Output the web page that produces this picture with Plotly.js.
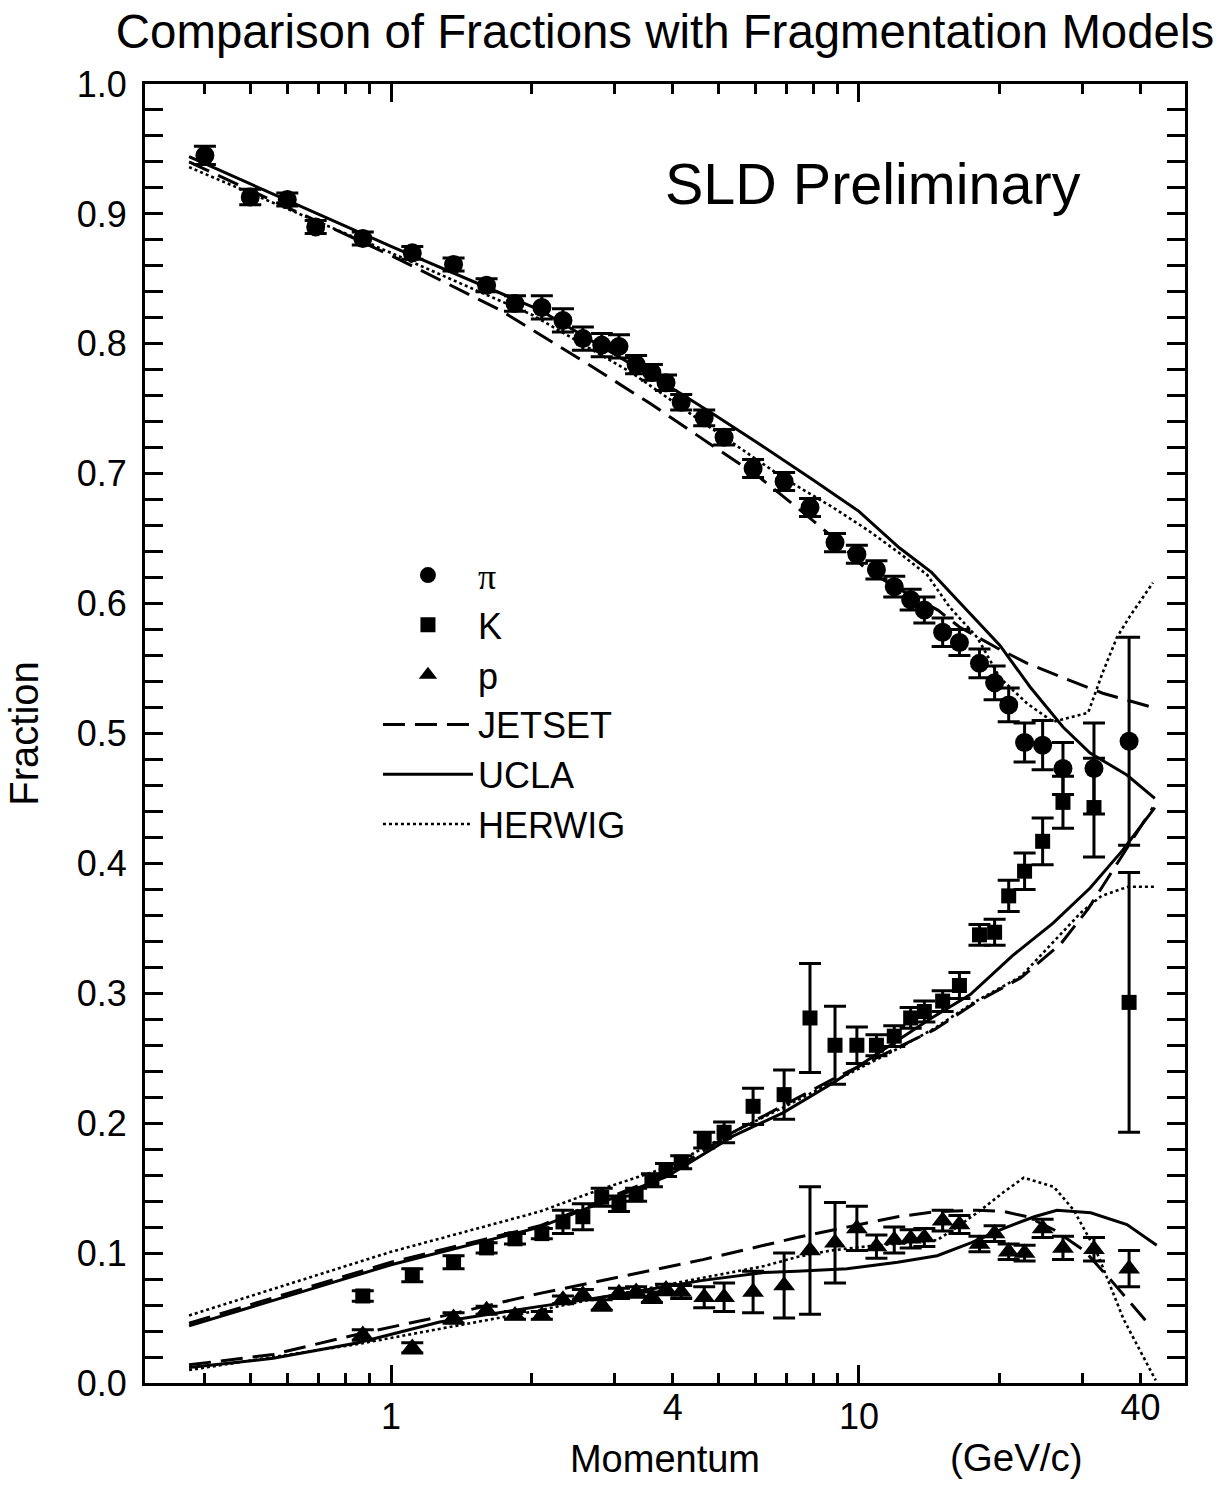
<!DOCTYPE html>
<html>
<head>
<meta charset="utf-8">
<script src="https://cdn.plot.ly/plotly-3.0.1.min.js"></script>
<style>html,body{margin:0;padding:0;background:#fff;}</style>
</head>
<body>
<div id="chart" style="width:1229px;height:1488px;"></div>
<script>
// ---- measured data (momentum in GeV/c, fraction) ----
const pionMomentum = [0.40,0.50,0.60,0.69,0.87,1.11,1.36,1.60,1.84,2.10,2.33,2.57,2.82,3.07,3.34,3.61,3.87,4.17,4.67,5.15,5.94,6.92,7.86,8.89,9.90,10.9,11.9,12.9,13.8,15.1,16.4,18.1,19.5,20.9,22.6,24.7,27.3,31.8,37.8];
const pionFraction = [0.945,0.913,0.911,0.890,0.881,0.870,0.861,0.845,0.831,0.828,0.818,0.804,0.799,0.798,0.784,0.778,0.770,0.755,0.743,0.728,0.704,0.694,0.674,0.647,0.638,0.626,0.613,0.603,0.595,0.578,0.570,0.554,0.539,0.522,0.493,0.491,0.473,0.473,0.494];
const pionError = [0.007,0.006,0.005,0.005,0.005,0.005,0.005,0.005,0.006,0.009,0.009,0.009,0.009,0.009,0.007,0.006,0.006,0.006,0.006,0.006,0.007,0.007,0.007,0.007,0.007,0.007,0.008,0.008,0.010,0.011,0.010,0.011,0.013,0.013,0.015,0.019,0.020,0.035,0.080];

const kpMomentum = [0.87,1.11,1.36,1.60,1.84,2.10,2.33,2.57,2.82,3.07,3.34,3.61,3.87,4.17,4.67,5.15,5.94,6.92,7.86,8.89,9.90,10.9,11.9,12.9,13.8,15.1,16.4,18.1,19.5,20.9,22.6,24.7,27.3,31.8,37.8];
const kaonFraction = [0.067,0.083,0.093,0.104,0.111,0.115,0.124,0.128,0.143,0.138,0.145,0.156,0.164,0.170,0.187,0.193,0.213,0.222,0.281,0.260,0.260,0.260,0.267,0.281,0.286,0.294,0.306,0.345,0.347,0.375,0.394,0.417,0.447,0.443,0.293];
const kaonError = [0.004,0.005,0.005,0.004,0.004,0.004,0.009,0.010,0.007,0.006,0.005,0.005,0.005,0.005,0.006,0.008,0.014,0.019,0.042,0.030,0.014,0.008,0.008,0.008,0.008,0.008,0.010,0.008,0.010,0.012,0.014,0.018,0.020,0.038,0.100];
const protonFraction = [0.037,0.027,0.050,0.056,0.052,0.052,0.064,0.068,0.060,0.069,0.070,0.066,0.072,0.070,0.066,0.066,0.070,0.075,0.102,0.108,0.119,0.105,0.110,0.111,0.112,0.125,0.122,0.107,0.115,0.101,0.100,0.119,0.104,0.103,0.088];
const protonError = [0.004,0.004,0.004,0.003,0.003,0.003,0.003,0.004,0.004,0.004,0.004,0.004,0.004,0.005,0.008,0.011,0.016,0.025,0.049,0.031,0.017,0.009,0.010,0.007,0.007,0.008,0.007,0.006,0.006,0.006,0.006,0.007,0.009,0.009,0.014];

// ---- model curves ----
const pionJetsetP = [0.37,1.0,1.71,2.62,3.58,4.88,6.14,7.37,8.67,10.4,12.2,14.75,16.4,19.7,22.9,27.3,33.2,42.5];
const pionJetsetF = [0.940,0.868,0.826,0.785,0.754,0.721,0.697,0.674,0.653,0.626,0.611,0.595,0.582,0.566,0.554,0.543,0.531,0.520];
const pionUclaP = [0.37,1.0,2.08,3.0,4.15,4.88,6.0,8.0,10.0,12.2,14.3,16.4,20.0,23.2,27.3,31.2,37.4,42.9];
const pionUclaF = [0.944,0.875,0.826,0.792,0.762,0.746,0.725,0.695,0.671,0.643,0.624,0.601,0.568,0.536,0.505,0.485,0.468,0.450];
const pionHerwigP = [0.37,1.0,2.01,3.29,4.88,6.88,8.80,10.4,12.2,14.0,15.65,17.9,20.0,22.9,26.0,30.9,33.2,35.6,37.9,42.5];
const pionHerwigF = [0.936,0.870,0.822,0.777,0.734,0.697,0.674,0.657,0.639,0.622,0.597,0.574,0.543,0.523,0.509,0.516,0.547,0.574,0.590,0.616];

const kaonJetsetP = [0.37,1.0,2.08,3.89,5.38,8.80,14.5,17.6,22.2,27.0,30.9,35.8,42.5];
const kaonJetsetF = [0.046,0.093,0.121,0.161,0.193,0.234,0.272,0.292,0.312,0.338,0.365,0.401,0.443];
const kaonUclaP = [0.37,1.0,2.08,3.89,5.38,6.88,8.80,11.9,14.3,17.3,21.3,26.0,31.2,36.6,42.9];
const kaonUclaF = [0.044,0.091,0.120,0.159,0.190,0.208,0.231,0.262,0.281,0.299,0.329,0.354,0.381,0.410,0.443];
const kaonHerwigP = [0.37,1.0,2.08,2.80,3.89,5.38,6.88,8.80,12.2,14.5,17.6,22.2,29.8,33.0,37.6,43.0];
const kaonHerwigF = [0.052,0.101,0.132,0.149,0.166,0.193,0.212,0.232,0.258,0.273,0.293,0.313,0.362,0.375,0.382,0.382];

const protonJetsetP = [0.37,0.56,0.86,1.27,2.08,2.82,4.64,6.27,7.37,9.43,12.1,14.7,17.9,20.4,22.9,26.1,30.3,34.6,41.7];
const protonJetsetF = [0.014,0.022,0.038,0.051,0.069,0.079,0.095,0.106,0.112,0.120,0.128,0.132,0.133,0.132,0.128,0.118,0.102,0.079,0.045];
const protonUclaP = [0.37,0.56,0.85,1.27,2.08,2.82,4.64,6.27,7.37,9.43,12.1,14.7,17.4,20.4,23.7,26.5,31.3,37.4,43.3];
const protonUclaF = [0.012,0.019,0.031,0.047,0.059,0.066,0.079,0.085,0.086,0.088,0.093,0.098,0.108,0.119,0.128,0.133,0.131,0.122,0.106];
const protonHerwigP = [0.37,0.85,2.08,2.82,4.64,6.27,7.37,8.71,10.3,13.1,14.7,16.2,18.2,20.4,22.5,26.1,28.8,32.3,36.8,43.1];
const protonHerwigF = [0.010,0.030,0.056,0.066,0.081,0.090,0.097,0.102,0.105,0.108,0.110,0.120,0.133,0.147,0.158,0.151,0.133,0.100,0.049,0.002];

// ---- axis ticks ----
const xMajorTicks = [1, 10];
const xMajorLabels = ['1', '10'];
const xExtraTicks = [4, 40];
const xExtraLabels = ['4', '40'];
const xMinorTicks = [0.4,0.5,0.6,0.7,0.8,0.9,2,3,4,5,6,7,8,9,20,30,40];

const FONT = 'Liberation Sans, Arial, Helvetica, sans-serif';

const styles = {
  JETSET: {color:'black', width:3, dash:'22px,10px'},
  UCLA:   {color:'black', width:3, dash:'solid'},
  HERWIG: {color:'black', width:2.6, dash:'3px,3px'}
};

function curve(x, y, model, showLegend, xaxisId) {
  return {
    x: x, y: y, type: 'scatter', mode: 'lines', name: model,
    xaxis: xaxisId || 'x',
    legendgroup: model, showlegend: showLegend,
    legendrank: {JETSET:4, UCLA:5, HERWIG:6}[model],
    line: styles[model], hoverinfo: 'skip'
  };
}
function dataTrace(x, y, err, name, symbol, size, rank) {
  return {
    x: x, y: y, type: 'scatter', mode: 'markers', name: name, legendrank: rank,
    marker: {symbol: symbol, size: size, color: 'black'},
    error_y: {type: 'data', array: err, visible: true, thickness: 3, width: 11, color: 'black'}
  };
}

const traces = [
  curve(pionJetsetP, pionJetsetF, 'JETSET', true),
  curve(kaonJetsetP, kaonJetsetF, 'JETSET', false),
  curve(protonJetsetP, protonJetsetF, 'JETSET', false),
  curve(pionUclaP, pionUclaF, 'UCLA', true),
  curve(kaonUclaP, kaonUclaF, 'UCLA', false),
  curve(protonUclaP, protonUclaF, 'UCLA', false),
  curve(pionHerwigP, pionHerwigF, 'HERWIG', true),
  curve(kaonHerwigP, kaonHerwigF, 'HERWIG', false),
  curve(protonHerwigP, protonHerwigF, 'HERWIG', false, 'x2'),
  dataTrace(pionMomentum, pionFraction, pionError, '<span style="font-family:Liberation Serif">π</span>', 'circle', 19, 1),
  dataTrace(kpMomentum, kaonFraction, kaonError, 'K', 'square', 15, 2),
  dataTrace(kpMomentum, protonFraction, protonError, 'p', 'triangle-up', 19, 3)
];

const xRange = [-0.526, 1.697];

const layout = {
  width: 1229, height: 1488,
  paper_bgcolor: 'white', plot_bgcolor: 'white',
  margin: {l: 145, r: 44, t: 84, b: 105},
  font: {family: FONT, color: 'black', size: 36},
  title: {text: 'Comparison of Fractions with Fragmentation Models',
          font: {family: FONT, size: 47.4, color: 'black'},
          x: 0.5, xref: 'paper', y: 1 - 31/1488, yref: 'container', yanchor: 'middle'},
  showlegend: true,
  legend: {x: 0.224, y: 0.645, xanchor: 'left', yanchor: 'top',
           font: {family: FONT, size: 36, color: 'black'},
           bgcolor: 'rgba(0,0,0,0)', borderwidth: 0, tracegroupgap: 0,
           itemsizing: 'trace', itemwidth: 90, traceorder: 'normal'},
  xaxis: {
    type: 'log', range: xRange, autorange: false,
    tickmode: 'array', tickvals: xMajorTicks, ticktext: xMajorLabels,
    ticks: 'inside', ticklen: 18, tickwidth: 3, tickcolor: 'black',
    showline: true, linewidth: 3, linecolor: 'black', mirror: 'allticks',
    showgrid: false, zeroline: false,
    tickfont: {family: FONT, size: 36},
    minor: {tickmode: 'array', tickvals: xMinorTicks, ticks: 'inside', ticklen: 10, tickwidth: 3, tickcolor: 'black', showgrid: false},
    title: {text: 'Momentum', font: {family: FONT, size: 38}, standoff: 10}
  },
  xaxis2: {
    type: 'log', range: xRange, autorange: false, overlaying: 'x', anchor: 'y', side: 'bottom',
    tickmode: 'array', tickvals: xExtraTicks, ticktext: xExtraLabels,
    ticks: '', showline: false, showgrid: false, zeroline: false,
    tickfont: {family: FONT, size: 36}
  },
  yaxis: {
    range: [0, 1], autorange: false,
    tickmode: 'linear', tick0: 0, dtick: 0.1, tickformat: '.1f',
    ticks: 'inside', ticklen: 18, tickwidth: 3, tickcolor: 'black',
    showline: true, linewidth: 3, linecolor: 'black', mirror: 'allticks',
    showgrid: false, zeroline: false, ticklabelstandoff: 8,
    tickfont: {family: FONT, size: 36},
    minor: {dtick: 0.02, ticks: 'inside', ticklen: 10, tickwidth: 3, tickcolor: 'black', showgrid: false},
    title: {text: 'Fraction', font: {family: FONT, size: 40}, standoff: 26}
  },
  annotations: [
    {text: 'SLD Preliminary', xref: 'paper', yref: 'paper', x: 0.700, y: 0.923,
     xanchor: 'center', yanchor: 'middle', showarrow: false,
     font: {family: FONT, size: 57.5, color: 'black'}},
    {text: '(GeV/c)', xref: 'paper', yref: 'paper', x: 0.838, y: -0.0577,
     xanchor: 'center', yanchor: 'middle', showarrow: false,
     font: {family: FONT, size: 38.5, color: 'black'}}
  ]
};

Plotly.newPlot('chart', traces, layout, {displayModeBar: false, responsive: false});
</script>
</body>
</html>
